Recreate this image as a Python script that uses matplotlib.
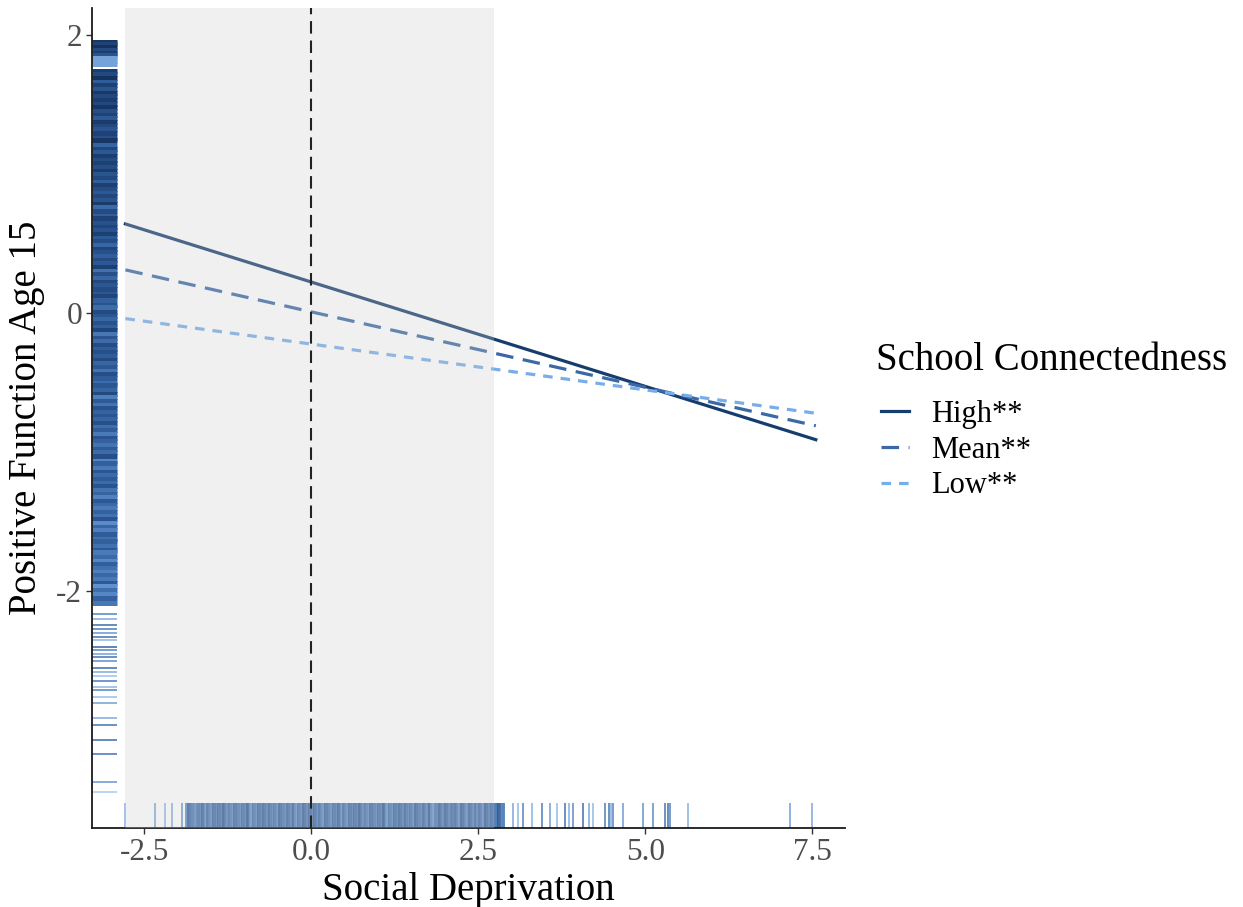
import matplotlib
matplotlib.use("Agg")
import matplotlib.pyplot as plt
from matplotlib.colors import LinearSegmentedColormap
import numpy as np

plt.rcParams['font.family'] = ['Liberation Serif', 'DejaVu Serif']
plt.rcParams['axes.unicode_minus'] = False

# simple slopes at three levels of the moderator
x_line = [-2.78, 7.55]
high = [0.64, -0.91]
mean = [0.31, -0.81]
low = [-0.04, -0.72]
levels = ["High**", "Mean**", "Low**"]

# Johnson-Neyman region
jn_lo, jn_hi = -2.78, 2.74

# rug: outcome values (left)
y_rug = [
    1.95, 1.93, 1.91, 1.89, 1.87, 1.85, 1.83, 1.81, 1.79,
    1.74, 1.72, 1.69, 1.66, 1.64, 1.61, 1.58, 1.56, 1.53, 1.50, 1.48,
    1.45, 1.42, 1.40, 1.37, 1.34, 1.32, 1.29, 1.26, 1.24, 1.21, 1.18,
    1.16, 1.13, 1.10, 1.08, 1.05, 1.02, 1.00, 0.97, 0.94, 0.92, 0.89,
    0.86, 0.84, 0.81, 0.78, 0.76, 0.73, 0.70, 0.68, 0.65, 0.62, 0.60,
    0.57, 0.54, 0.52, 0.49, 0.46, 0.44, 0.41, 0.38, 0.36, 0.33, 0.30,
    0.28, 0.25, 0.22, 0.20, 0.17, 0.14, 0.12, 0.09, 0.06, 0.04, 0.01,
    -0.02, -0.04, -0.07, -0.10, -0.12, -0.15, -0.18, -0.20, -0.23, -0.26,
    -0.28, -0.31, -0.34, -0.36, -0.39, -0.42, -0.44, -0.47, -0.50, -0.52,
    -0.55, -0.58, -0.60, -0.63, -0.66, -0.68, -0.71, -0.74, -0.76, -0.79,
    -0.82, -0.84, -0.87, -0.90, -0.92, -0.95, -0.98, -1.00, -1.03, -1.06,
    -1.08, -1.11, -1.14, -1.16, -1.19, -1.22, -1.24, -1.27, -1.30, -1.32,
    -1.35, -1.38, -1.40, -1.43, -1.46, -1.48, -1.51, -1.54, -1.56, -1.59,
    -1.62, -1.64, -1.67, -1.70, -1.72, -1.75, -1.78, -1.80, -1.83, -1.86,
    -1.88, -1.91, -1.94, -1.96, -1.99, -2.02, -2.05, -2.08,
]
y_rug_tail = [
    -2.16, -2.20, -2.24, -2.27, -2.30, -2.33, -2.35, -2.40, -2.42, -2.45,
    -2.47, -2.50, -2.55, -2.58, -2.61, -2.64, -2.69, -2.71, -2.76, -2.80,
    -2.91, -2.96, -3.07, -3.17, -3.37, -3.44,
]
y_tail_shade = [
    0.60, 0.80, 0.45, 0.55, 0.70, 0.50, 0.85, 0.40, 0.60, 0.75,
    0.50, 0.65, 0.45, 0.80, 0.90, 0.55, 0.85, 0.60, 0.90, 0.75,
    0.80, 0.50, 0.45, 0.50, 0.70, 0.95,
]

# rug: predictor values (bottom)
x_rug = [
    -2.78, -2.34, -2.19, -2.08, -1.93,
    -1.86, -1.83, -1.78, -1.75, -1.70, -1.67, -1.62, -1.58, -1.55, -1.50,
    -1.46, -1.43, -1.38, -1.34, -1.31, -1.26, -1.22, -1.19, -1.14, -1.10,
    -1.07, -1.02, -0.98, -0.95, -0.90, -0.86, -0.83, -0.78, -0.74, -0.71,
    -0.66, -0.62, -0.59, -0.54, -0.50, -0.47, -0.42, -0.38, -0.35, -0.30,
    -0.26, -0.23, -0.18, -0.14, -0.11, -0.06, -0.02, 0.01, 0.06, 0.10,
    0.13, 0.18, 0.22, 0.25, 0.30, 0.34, 0.37, 0.42, 0.46, 0.49, 0.54,
    0.58, 0.61, 0.66, 0.70, 0.73, 0.78, 0.82, 0.85, 0.90, 0.94, 0.97,
    1.02, 1.06, 1.09, 1.14, 1.18, 1.21, 1.26, 1.30, 1.33, 1.38, 1.42,
    1.45, 1.50, 1.54, 1.57, 1.62, 1.66, 1.69, 1.74, 1.78, 1.81, 1.86,
    1.90, 1.93, 1.98, 2.02, 2.05, 2.10, 2.14, 2.17, 2.22, 2.26, 2.29,
    2.34, 2.38, 2.41, 2.46, 2.50, 2.53, 2.58, 2.62, 2.66, 2.71, 2.76,
    2.81, 2.87,
    3.02, 3.10, 3.17, 3.31, 3.46, 3.58, 3.68, 3.79, 3.85, 3.92, 4.06,
    4.15, 4.22, 4.40, 4.45, 4.48, 4.51, 4.66, 4.97, 5.12, 5.30, 5.34,
    5.37, 5.64, 7.17, 7.49,
]

line_colors = ['#173d6e', '#3b69a7', '#78aee8']
rug_cmap = LinearSegmentedColormap.from_list(
    'rug', ['#15325f', '#2d5b98', '#5f90cf', '#b3d5f7'])
shade_cycle = [0.15, 0.35, 0.05, 0.45, 0.25, 0.60, 0.10, 0.30, 0.50,
               0.20, 0.40, 0.00, 0.70, 0.25, 0.55, 0.10, 0.35]

fig = plt.figure(figsize=(12.43, 9.07), dpi=100)
ax = fig.add_axes([0.074, 0.087, 0.606, 0.904])
ax.set_xlim(-3.28, 7.99)
ax.set_ylim(-3.70, 2.19)

# left rug
ytr = ax.get_yaxis_transform()
ys = np.array(y_rug)
y_shade = np.clip(0.5 * np.array([shade_cycle[i % len(shade_cycle)] for i in range(len(ys))])
                  + 0.09 * (0.3 - ys) + 0.12, 0, 1)
y_shade[(ys > 1.77) & (ys < 1.84)] = 0.75
ax.hlines(ys, 0, 0.033, transform=ytr, colors=rug_cmap(y_shade), lw=3.6, zorder=2)
ax.hlines(y_rug_tail, 0, 0.033, transform=ytr, colors=rug_cmap(np.array(y_tail_shade)),
          lw=1.4, alpha=0.8, zorder=2)

# bottom rug
xtr = ax.get_xaxis_transform()
xs = np.array(x_rug)
x_shade = np.array([0.3 + 0.45 * shade_cycle[i % len(shade_cycle)] for i in range(len(xs))])
x_shade[(xs < -1.88) | (xs > 2.9)] = np.array(
    [0.8, 0.7, 0.8, 0.75, 0.6] + [0.75, 0.85, 0.55, 0.8, 0.5, 0.7, 0.85, 0.45,
     0.8, 0.6, 0.4, 0.75, 0.85, 0.5, 0.45, 0.8, 0.55, 0.7, 0.65, 0.6, 0.45,
     0.4, 0.55, 0.8, 0.7, 0.75])
dense = (xs >= -1.88) & (xs <= 2.9)
ax.vlines(xs[dense], 0, 0.031, transform=xtr, colors=rug_cmap(x_shade[dense]),
          lw=2.8, alpha=0.9, zorder=2)
ax.vlines(xs[~dense], 0, 0.031, transform=xtr, colors=rug_cmap(x_shade[~dense]),
          lw=1.4, alpha=0.75, zorder=2)

# simple slopes
styles = ['-', (0, (5.5, 3)), (0, (3, 2.5))]
handles = []
for vals, col, ls, lab in zip([high, mean, low], line_colors, styles, levels):
    h, = ax.plot(x_line, vals, color=col, ls=ls, lw=2.3, label=lab, zorder=2)
    handles.append(h)

# shaded interval and reference line
ax.axvspan(jn_lo, jn_hi, color='#cccccc', alpha=0.29, lw=0, zorder=3)
ax.axvline(0, color='#222222', ls=(0, (6, 3.3)), lw=1.5, zorder=4)

ax.set_xticks([-2.5, 0.0, 2.5, 5.0, 7.5])
ax.set_xticklabels(['-2.5', '0.0', '2.5', '5.0', '7.5'])
ax.set_yticks([-2, 0, 2])
ax.set_yticklabels(['-2', '0', '2'])
ax.tick_params(labelsize=22.5, labelcolor='#4d4d4d', color='#333333',
               length=4, width=1.0, pad=3)
for side in ['top', 'right']:
    ax.spines[side].set_visible(False)
for side in ['left', 'bottom']:
    ax.spines[side].set_linewidth(1.3)
    ax.spines[side].set_color('#1a1a1a')

ax.set_xlabel('Social Deprivation', fontsize=28, labelpad=4)
ax.set_ylabel('Positive Function Age 15', fontsize=28, labelpad=8)

# legend
fig.text(876 / 1243, 1 - 361 / 907, 'School Connectedness', fontsize=28,
         ha='left', va='center')
fig.legend(handles, levels, loc='upper left',
           bbox_to_anchor=(881 / 1243, 1 - 400 / 907), frameon=False,
           fontsize=22, handlelength=0.9, handletextpad=0.75, labelspacing=0.22,
           borderpad=0, borderaxespad=0)

fig.savefig('out.png', dpi=100)
